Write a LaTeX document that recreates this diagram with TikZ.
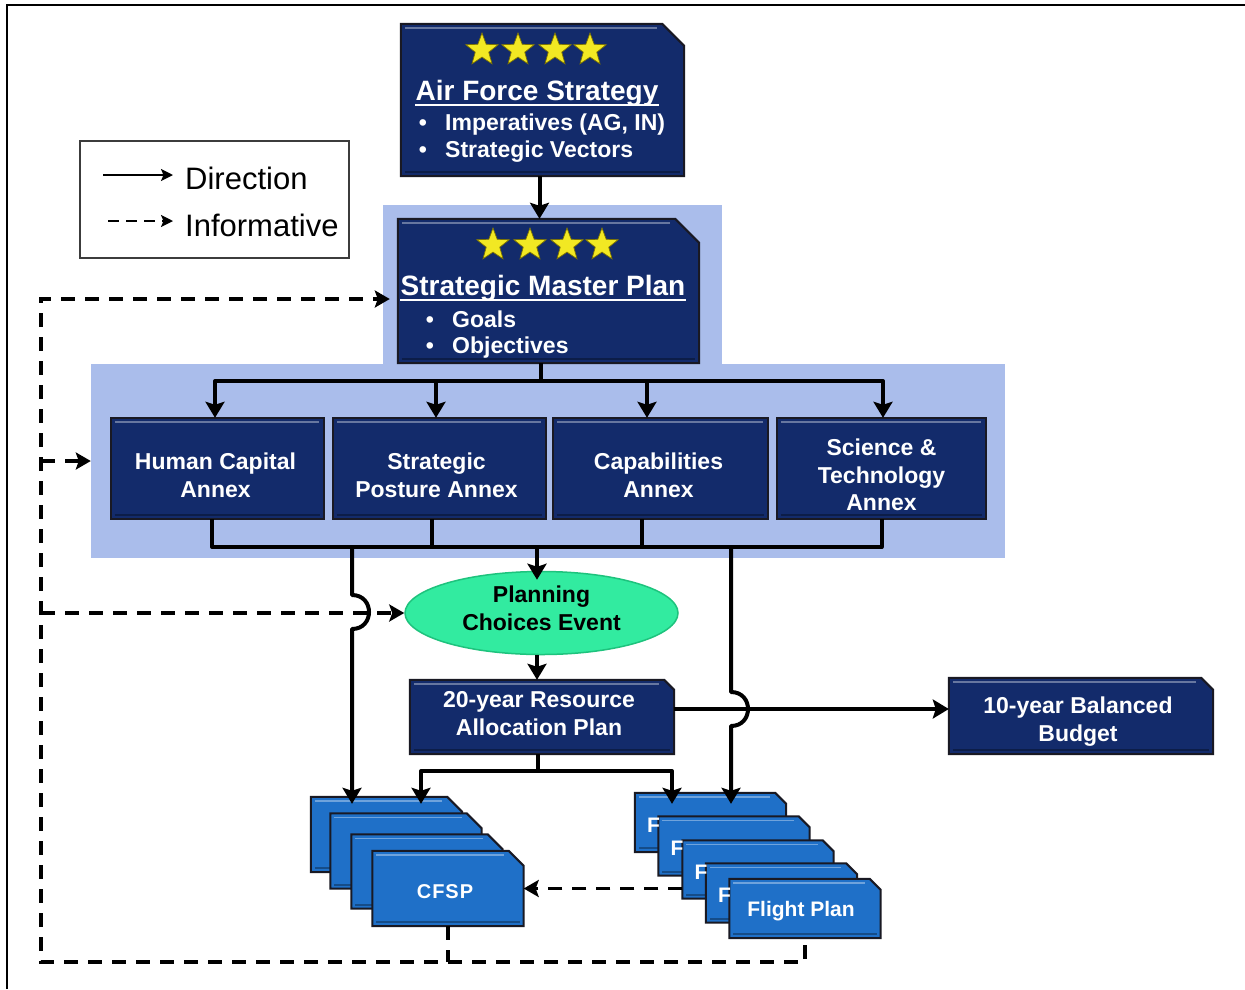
\documentclass[tikz,border=0pt]{standalone}
\usepackage{fontspec}
\setmainfont{Liberation Sans}
\usetikzlibrary{arrows.meta,shapes.geometric,calc}
\pgfdeclarelayer{back}
\pgfdeclarelayer{bg}
\pgfsetlayers{back,bg,main}

\definecolor{navy}{RGB}{19,43,107}
\definecolor{edgecol}{RGB}{25,25,35}
\definecolor{lightbg}{RGB}{170,189,235}
\definecolor{brightblue}{RGB}{31,112,200}
\definecolor{ellgreen}{RGB}{50,235,160}
\definecolor{ellgreenedge}{RGB}{30,195,125}
\definecolor{staryellow}{RGB}{242,232,35}
\definecolor{staredge}{RGB}{125,115,0}
\definecolor{legedge}{RGB}{60,60,60}

% draw chamfered box behind a named (empty) node, with a light bevel line on top
\newcommand\chamferbox[3]{%
  \begin{pgfonlayer}{bg}
  \path[draw=edgecol, line width=2pt, line join=miter, fill=#2]
    (#1.south west) -- (#1.north west) -- ([xshift=-#3pt]#1.north east)
    -- ([yshift=-#3pt]#1.north east) -- (#1.south east) -- cycle;
  \draw[#2!55!white, line width=1.6pt, opacity=0.8]
    ([xshift=4pt,yshift=-4pt]#1.north west) -- ([xshift=-#3pt,xshift=-5pt,yshift=-4pt]#1.north east);
  \draw[#2!60!black, line width=1.6pt, opacity=0.8]
    ([xshift=4pt,yshift=4pt]#1.south west) -- ([xshift=-4pt,yshift=4pt]#1.south east);
  \end{pgfonlayer}}

\begin{document}
\begin{tikzpicture}[x=1pt,y=-1pt,
  boxnode/.style={rectangle, inner sep=0pt, draw=none},
  wtext/.style={text=white, font=\bfseries\fontsize{23}{28}\selectfont, align=center, inner sep=0pt},
  ttl/.style={text=white, font=\bfseries\fontsize{28}{32}\selectfont, inner sep=0pt},
  btext/.style={text=white, font=\bfseries\fontsize{23}{28}\selectfont, inner sep=0pt},
  legtext/.style={text=black, font=\fontsize{31}{36}\selectfont, inner sep=0pt},
  starnode/.style={star, star points=5, star point ratio=2.4, minimum size=34pt, inner sep=0pt,
                   fill=staryellow, draw=staredge, line width=0.7pt},
  conn/.style={line width=4pt, line join=round, black},
  arr/.style={conn, -{Stealth[length=16pt,width=19pt,inset=3pt]}},
  dline/.style={line width=3.5pt, black, dash pattern=on 14pt off 10pt},
  darr/.style={dline, -{Stealth[length=15pt,width=17pt,inset=3pt]}},
  legarr/.style={line width=1.8pt, black, -{Stealth[length=12pt,width=12pt,inset=2.5pt]}},
]
\useasboundingbox (0,0) rectangle (1245,989);
\begin{pgfonlayer}{back}
\fill[white] (0,0) rectangle (1245,989);
\end{pgfonlayer}

% frame
\draw[line width=2pt, black] (7,989) -- (7,5) -- (1245,5);

% light blue backgrounds
\begin{pgfonlayer}{back}
  \node[boxnode, fill=lightbg, minimum width=339pt, minimum height=160pt] (bgA) at (552.5,285) {};
  \node[boxnode, fill=lightbg, minimum width=914pt, minimum height=194pt] (bgB) at (548,461) {};
\end{pgfonlayer}

% legend
\node[draw=legedge, line width=1.3pt, minimum width=269pt, minimum height=117pt, inner sep=0pt] (legend) at (214.5,199.5) {};
\coordinate (ld1) at (103,175); \coordinate (ld2) at (173,175);
\coordinate (li1) at (108,221); \coordinate (li2) at (173,221);
\draw[legarr] (ld1) -- (ld2);
\draw[legarr, dash pattern=on 11pt off 7pt] (li1) -- (li2);
\node[legtext, anchor=base west] (legD) at (185,189) {Direction};
\node[legtext, anchor=base west] (legI) at (185,236) {Informative};

% Air Force Strategy
\node[boxnode, minimum width=283pt, minimum height=152pt] (afs) at (542.5,100) {};
\chamferbox{afs}{navy}{22}
\foreach \x [count=\i] in {482,518,555,590} \node[starnode] (afsStar\i) at (\x,50) {};
\node[ttl, anchor=base] (afsT) at (537,100) {Air Force Strategy};
\draw[white, line width=2pt] ([yshift=-5pt]afsT.base west) -- ([yshift=-5pt]afsT.base east);
\node[btext, anchor=base] (afsD1) at (423,130) {\textbullet};
\node[btext, anchor=base west] (afsB1) at (445,130) {Imperatives (AG, IN)};
\node[btext, anchor=base] (afsD2) at (423,157) {\textbullet};
\node[btext, anchor=base west] (afsB2) at (445,157) {Strategic Vectors};

% Strategic Master Plan
\node[boxnode, minimum width=301pt, minimum height=144pt] (smp) at (548.5,291) {};
\chamferbox{smp}{navy}{24}
\foreach \x [count=\i] in {493,530,567,602} \node[starnode] (smpStar\i) at (\x,245) {};
\node[ttl, anchor=base] (smpT) at (543,295) {Strategic Master Plan};
\draw[white, line width=2pt] ([yshift=-5pt]smpT.base west) -- ([yshift=-5pt]smpT.base east);
\node[btext, anchor=base] (smpD1) at (430,327) {\textbullet};
\node[btext, anchor=base west] (smpB1) at (452,327) {Goals};
\node[btext, anchor=base] (smpD2) at (430,353) {\textbullet};
\node[btext, anchor=base west] (smpB2) at (452,353) {Objectives};

% Annexes
\node[boxnode, minimum width=213pt, minimum height=101pt] (hc) at (217.5,468.5) {};
\node[boxnode, minimum width=213pt, minimum height=101pt] (sp) at (439.5,468.5) {};
\node[boxnode, minimum width=215pt, minimum height=101pt] (cap) at (660.5,468.5) {};
\node[boxnode, minimum width=209pt, minimum height=101pt] (st) at (881.5,468.5) {};
\chamferbox{hc}{navy}{0}
\chamferbox{sp}{navy}{0}
\chamferbox{cap}{navy}{0}
\chamferbox{st}{navy}{0}
\node[wtext] (hcT) at ([xshift=-2pt,yshift=-7pt]hc.center) {Human Capital\\Annex};
\node[wtext] (spT) at ([xshift=-3pt,yshift=-7pt]sp.center) {Strategic\\Posture Annex};
\node[wtext] (capT) at ([xshift=-2pt,yshift=-7pt]cap.center) {Capabilities\\Annex};
\node[wtext, font=\bfseries\fontsize{23}{27.5}\selectfont] (stT) at ([yshift=-6.5pt]st.center) {Science \&\\Technology\\Annex};

% Planning Choices Event
\node[ellipse, minimum width=273pt, minimum height=83pt, inner sep=0pt,
      fill=ellgreen, draw=ellgreenedge, line width=1.5pt] (pce) at (541.5,613) {};
\node[wtext, text=black] (pceT) at ([yshift=5pt]pce.center) {Planning\\Choices Event};

% 20-year Resource Allocation Plan
\node[boxnode, minimum width=264pt, minimum height=74pt] (rap) at (542,717) {};
\chamferbox{rap}{navy}{10}
\node[wtext] (rapT) at ([xshift=-3pt,yshift=3pt]rap.center) {20-year Resource\\Allocation Plan};

% 10-year Balanced Budget
\node[boxnode, minimum width=264pt, minimum height=76pt] (budget) at (1081,716) {};
\chamferbox{budget}{navy}{12}
\node[wtext] (budgetT) at ([xshift=-3pt,yshift=-6pt]budget.center) {10-year Balanced\\Budget};

% CFSP stack
\node[boxnode, minimum width=151pt, minimum height=75pt] (b1) at (386.5,834.5) {};
\node[boxnode, minimum width=151pt, minimum height=75pt] (b2) at (406,851) {};
\node[boxnode, minimum width=151pt, minimum height=74pt] (b3) at (427,871.5) {};
\node[boxnode, minimum width=151pt, minimum height=75pt] (b4) at (448,888.5) {};
\chamferbox{b1}{brightblue}{15}
\chamferbox{b2}{brightblue}{15}
\chamferbox{b3}{brightblue}{15}
\chamferbox{b4}{brightblue}{15}
\node[wtext, font=\bfseries\fontsize{20}{24}\selectfont] (b4T) at ([xshift=-3pt,yshift=-3.5pt]b4.center) {C\kern1pt F\kern1pt S\kern1pt P};

% Flight Plan stack
\node[boxnode, minimum width=151pt, minimum height=59pt] (f1) at (710.5,822.5) {};
\node[boxnode, minimum width=151pt, minimum height=59pt] (f2) at (734,846) {};
\node[boxnode, minimum width=151pt, minimum height=58pt] (f3) at (758,869.5) {};
\node[boxnode, minimum width=151pt, minimum height=59pt] (f4) at (781.5,893) {};
\node[boxnode, minimum width=151pt, minimum height=59pt] (f5) at (805,908.5) {};
\chamferbox{f1}{brightblue}{11}
\chamferbox{f2}{brightblue}{11}
\chamferbox{f3}{brightblue}{11}
\chamferbox{f4}{brightblue}{11}
\chamferbox{f5}{brightblue}{11}
\foreach \f in {f1,f2,f3,f4}
  \node[wtext, font=\bfseries\fontsize{21}{24}\selectfont, anchor=base west] (\f T) at ([xshift=12pt,yshift=-9.5pt]\f.west) {F};
\node[wtext, font=\bfseries\fontsize{21}{24}\selectfont] (f5T) at ([xshift=-4pt,yshift=-3pt]f5.center) {Flight Plan};

% ---------- solid connectors ----------
\coordinate (afsS) at ([xshift=-3pt]afs.south);
\draw[arr] (afsS) -- (afsS |- smp.north);

\coordinate (bt) at (541,381);
\draw[conn] (smp.south -| bt) -- (bt);
\draw[arr] (bt) -| ([xshift=-2.5pt]hc.north);
\draw[arr] (bt) -| ([xshift=-3.5pt]sp.north);
\draw[arr] (bt) -| ([xshift=-13.5pt]cap.north);
\draw[arr] (bt) -| ([xshift=1.5pt]st.north);

\coordinate (bb) at (537,547);
\draw[conn] ([xshift=-5.5pt]hc.south) |- (bb) -| (st.south);
\draw[conn] ([xshift=-7.5pt]sp.south) |- (bb);
\draw[conn] ([xshift=-18.5pt]cap.south) |- (bb);
\coordinate (pceN) at ([yshift=-9pt]pce.north);
\draw[arr] (bb) -- (bb |- pceN);

\draw[arr] (pce.south -| bb) -- (bb |- rap.north);

\coordinate (rapE) at ([yshift=8pt]rap.east);
\draw[arr] (rapE) -- (rapE -| budget.west);

\coordinate (rb) at (538,771);
\draw[conn] (rap.south -| rb) -- (rb);
\draw[arr] (rb) -| ([xshift=34.5pt,yshift=-7pt]b1.north);
\draw[arr] (rb) -| ([xshift=-38.5pt,yshift=-11pt]f1.north);

% lines from annex bus with hops
\coordinate (hl) at (352,547);
\draw[arr] (hl) -- (352,595) .. controls (374.7,595) and (374.7,629) .. (352,629)
  -- ([xshift=-34.5pt,yshift=-7pt]b1.north);
\coordinate (hr) at (731,547);
\draw[arr] (hr) -- (731,692) .. controls (753.7,692) and (753.7,726) .. (731,726)
  -- ([xshift=20.5pt,yshift=-11pt]f1.north);

% ---------- dashed connectors ----------
\coordinate (botL) at (41,962);
\coordinate (topL) at (41,299);
\draw[darr] ([yshift=-7pt]f5.south) |- (botL) -- (topL) -- ([xshift=-8pt,yshift=-8pt]smp.west);
\draw[dline] (b4.south) -- (b4.south |- botL);
\draw[darr] (topL |- bgB.west) -- (bgB.west);
\draw[darr] (topL |- pce.west) -- (pce.west);
\draw[darr] (f3.west |- b4.east) -- (b4.east);

\end{tikzpicture}
\end{document}
